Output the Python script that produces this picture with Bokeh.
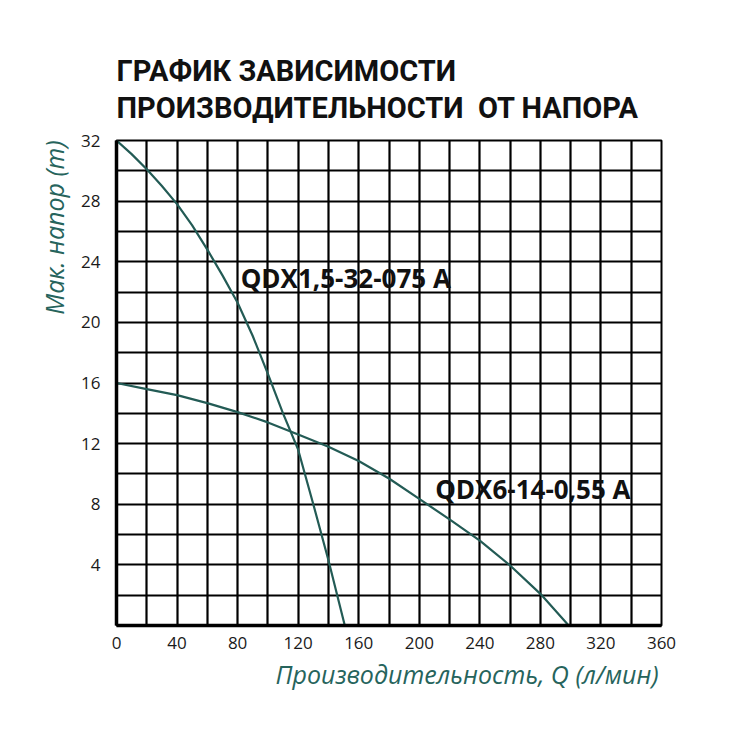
from bokeh.plotting import figure
from bokeh.models import FixedTicker, Label, Range1d, Title
from bokeh.embed import file_html
from bokeh.resources import INLINE

# Data
q_075 = [0, 10, 20, 30, 40, 50, 60, 70, 80, 90, 100, 110, 120, 130, 140, 150.8]
h_075 = [32, 31.1, 30.1, 29.0, 27.8, 26.4, 24.8, 23.1, 21.3, 19.1, 16.6, 14.0, 11.6, 8.0, 4.3, 0]
q_055 = [0, 20, 40, 60, 80, 100, 120, 140, 160, 180, 200, 220, 240, 260, 280, 298.7]
h_055 = [16, 15.6, 15.2, 14.67, 14.08, 13.4, 12.6, 11.8, 10.85, 9.7, 8.35, 7.0, 5.6, 3.96, 2.09, 0]
x_ticks = [0, 40, 80, 120, 160, 200, 240, 280, 320, 360]
y_ticks = [4, 8, 12, 16, 20, 24, 28, 32]
title_lines = ["ГРАФИК ЗАВИСИМОСТИ", "ПРОИЗВОДИТЕЛЬНОСТИ\u00a0 ОТ НАПОРА"]
curve_names = ["QDX1,5-32-075 A", "QDX6-14-0,55 A"]
x_label = "Производительность, Q (л/мин)"
y_label = "Мак. напор (m)"

TEAL = "#235b55"
LABEL_TEAL = "#26645c"

p = figure(width=750, height=750, output_backend="svg", toolbar_location=None,
           x_range=Range1d(0, 360), y_range=Range1d(0, 32),
           min_border_left=116, min_border_right=89, min_border_top=140, min_border_bottom=125)
p.background_fill_color = "white"
p.border_fill_color = "white"
p.outline_line_color = "black"
p.outline_line_width = 2

p.xaxis.ticker = FixedTicker(ticks=x_ticks)
p.yaxis.ticker = FixedTicker(ticks=y_ticks)
for ax in (p.xaxis, p.yaxis):
    ax.major_tick_line_color = None
    ax.minor_tick_line_color = None
    ax.axis_line_color = "black"
    ax.axis_line_width = 3.5
    ax.major_label_text_font = "Open Sans"
    ax.major_label_text_font_size = "17px"
    ax.major_label_text_color = "#1a1a1a"
p.xaxis.major_label_standoff = 5
p.yaxis.major_label_standoff = 10

p.xgrid.ticker = FixedTicker(ticks=list(range(0, 361, 20)))
p.ygrid.ticker = FixedTicker(ticks=list(range(0, 33, 2)))
for g in (p.xgrid, p.ygrid):
    g.grid_line_color = "black"
    g.grid_line_width = 2.2
    g.grid_line_alpha = 1.0

p.line(q_075, h_075, line_color=TEAL, line_width=2.2)
p.line(q_055, h_055, line_color=TEAL, line_width=2.2)

p.add_layout(Label(x=82, y=22.9, text=curve_names[0], text_font="Open Sans", text_font_style="bold",
                   text_font_size="26px", text_color="#111111", text_baseline="middle"))
p.add_layout(Label(x=210.5, y=9.0, text=curve_names[1], text_font="Open Sans", text_font_style="bold",
                   text_font_size="26px", text_color="#111111", text_baseline="middle"))

# titles above (later added = further out)
p.add_layout(Title(text=title_lines[1], text_font="Roboto", text_font_style="bold",
                   text_font_size="29px", text_color="#111111", align="left", offset=0,
                   standoff=31), "above")
p.add_layout(Title(text=title_lines[0], text_font="Roboto", text_font_style="bold",
                   text_font_size="29px", text_color="#111111", align="left", offset=0,
                   standoff=-28), "above")

# axis labels as offset titles
p.add_layout(Title(text=x_label, text_font="Open Sans", text_font_style="italic",
                   text_font_size="25px", text_color=LABEL_TEAL, align="left", offset=159,
                   standoff=6), "below")
p.add_layout(Title(text=y_label, text_font="Open Sans", text_font_style="italic",
                   text_font_size="25px", text_color=LABEL_TEAL, align="right", offset=0,
                   standoff=16), "left")

open("out.html", "w").write(file_html(p, INLINE))
